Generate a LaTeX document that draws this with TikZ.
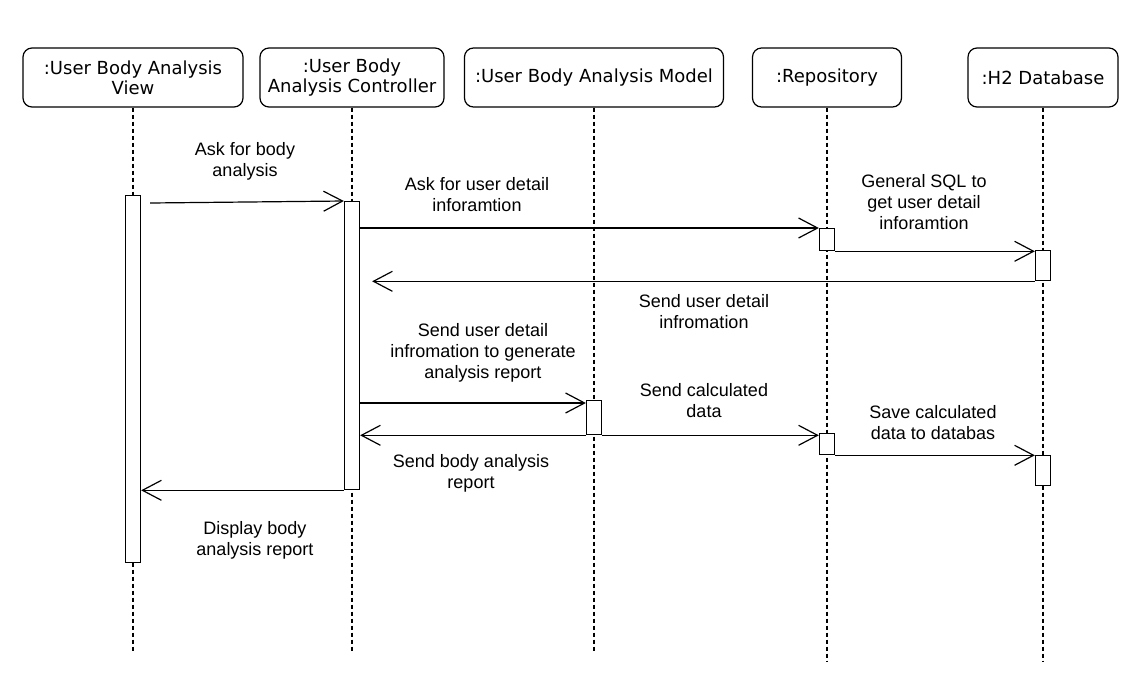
\documentclass[tikz,border=0pt]{standalone}
\usepackage{fontspec}
\setmainfont{Liberation Sans}
\newfontfamily\headfont{DejaVu Sans}
\usetikzlibrary{arrows.meta,calc}

\begin{document}
\begin{tikzpicture}[x=1pt,y=-1pt,
  head/.style={draw,rounded corners=9pt,line width=1.2pt,minimum height=59pt,inner sep=0pt,align=center,font=\headfont\fontsize{18}{20}\selectfont},
  life/.style={dash pattern=on 4pt off 3pt,line width=1.1pt},
  act/.style={draw,fill=white,line width=1.3pt,minimum width=15pt,inner sep=0pt,anchor=north},
  msg/.style={line width=1.2pt,-{Straight Barb[length=19pt,width=20pt]}},
  lbl/.style={align=center,font=\fontsize{18}{21}\selectfont}]
\useasboundingbox (0,0) rectangle (1127,697);
% lifeline heads
\node[head,minimum width=220pt] (view) at (133,77.5) {:User Body Analysis\\View};
\node[head,minimum width=184pt] (ctrl) at (352,77.5) {:User Body\\Analysis Controller};
\node[head,minimum width=259pt] (model) at (594,77.5) {:User Body Analysis Model};
\node[head,minimum width=149pt] (repo) at (827,77.5) {:Repository};
\node[head,minimum width=150pt] (db) at (1043,77.5) {:H2 Database};
% lifelines
\coordinate (viewEnd) at (133,653);
\coordinate (ctrlEnd) at (352,653);
\coordinate (modelEnd) at (594,653);
\coordinate (repoEnd) at (827,661);
\coordinate (dbEnd) at (1043,661);
\draw[life] (view.south) -- (viewEnd);
\draw[life] (ctrl.south) -- (ctrlEnd);
\draw[life] (model.south) -- (modelEnd);
\draw[life] (repo.south) -- (repoEnd);
\draw[life] (db.south) -- (dbEnd);
% activations
\node[act,minimum height=367pt] (viewAct) at (133,195) {};
\node[act,minimum height=288pt] (ctrlAct) at (352,201) {};
\node[act,minimum height=22pt] (repoA) at (827,228) {};
\node[act,minimum height=30pt] (dbA) at (1043,250) {};
\node[act,minimum height=34pt] (modelAct) at (594,400) {};
\node[act,minimum height=21pt] (repoB) at (827,433) {};
\node[act,minimum height=30pt] (dbB) at (1043,455) {};
% messages
\draw[msg] ([xshift=9pt,yshift=-8pt]viewAct.north east) -- (ctrlAct.north west);
\draw[msg] (ctrlAct.east |- repoA.north) -- (repoA.north west);
\draw[msg] (repoA.south east) -- (dbA.west |- repoA.south);
\draw[msg] (dbA.south west) -- ($(ctrlAct.east |- dbA.south)+(12,0)$);
\draw[msg] ($(ctrlAct.east |- modelAct.north)+(0,3)$) -- ($(modelAct.north west)+(0,3)$);
\draw[msg] (modelAct.south west) -- (ctrlAct.east |- modelAct.south);
\draw[msg] (modelAct.south east) -- (repoB.west |- modelAct.south);
\draw[msg] (repoB.south east) -- (dbB.west |- repoB.south);
\draw[msg] (ctrlAct.south west) -- (viewAct.east |- ctrlAct.south);
% labels
\node[lbl] (l1) at (245,161) {Ask for body\\analysis};
\node[lbl] (l2) at (477,195) {Ask for user detail\\inforamtion};
\node[lbl] (l3) at (924,202) {General SQL to\\get user detail\\inforamtion};
\node[lbl] (l4) at (704,312) {Send user detail\\infromation};
\node[lbl] (l5) at (483,353) {Send user detail\\infromation to generate\\analysis report};
\node[lbl] (l6) at (704,401) {Send calculated\\data};
\node[lbl] (l7) at (933,423) {Save calculated\\data to databas};
\node[lbl] (l8) at (471,473) {Send body analysis\\report};
\node[lbl] (l9) at (255,540) {Display body\\analysis report};
\end{tikzpicture}
\end{document}
